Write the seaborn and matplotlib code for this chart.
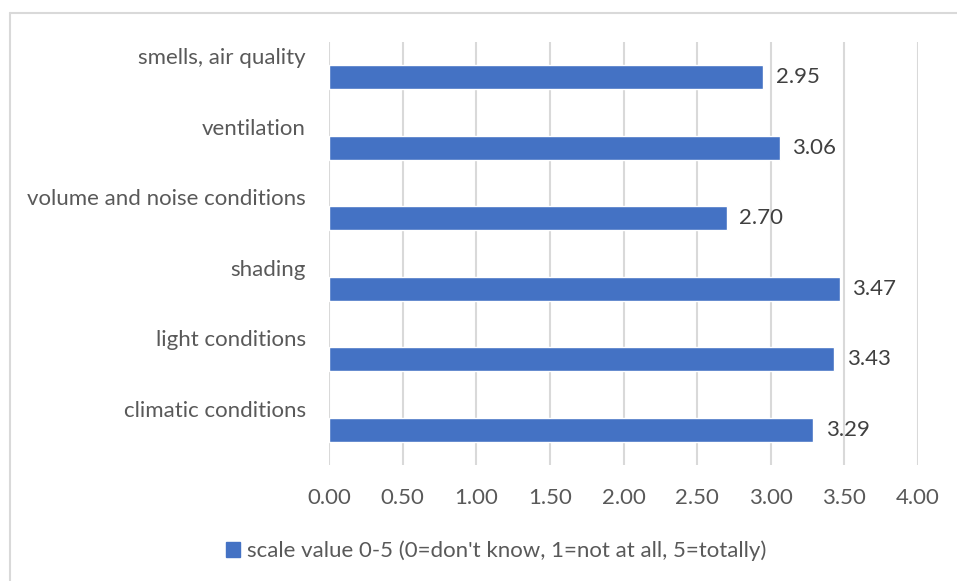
import matplotlib
matplotlib.use("Agg")
import matplotlib.pyplot as plt
import matplotlib.transforms as mtransforms
from matplotlib.lines import Line2D
import seaborn as sns
import pandas as pd

# Survey aspects, listed top to bottom
aspects = [
    "smells, air quality",
    "ventilation",
    "volume and noise conditions",
    "shading",
    "light conditions",
    "climatic conditions",
]
scores = [2.95, 3.06, 2.70, 3.47, 3.43, 3.29]
series_name = "scale value 0-5 (0=don't know, 1=not at all, 5=totally)"
x_ticks = [0.0, 0.5, 1.0, 1.5, 2.0, 2.5, 3.0, 3.5, 4.0]

bar_color = "#4472C4"
text_gray = "#595959"
grid_gray = "#D9D9D9"
fs = 16

sns.set_theme(style="white")
plt.rcParams["font.family"] = ["Lato", "DejaVu Sans"]

df = pd.DataFrame({"aspect": aspects, "score": scores, "series": series_name})

fig = plt.figure(figsize=(9.57, 5.81), dpi=100)
W, H = 957, 581
ax = fig.add_axes([329 / W, 1 - 465 / H, (918 - 329) / W, (465 - 42) / H])

sns.barplot(data=df, x="score", y="aspect", hue="series", palette=[bar_color],
            orient="h", width=0.345, ax=ax, legend=True, saturation=1)

ax.set_xlim(0, 4.0)
ax.set_ylim(5.5, -0.5)
ax.set_xticks(x_ticks)
ax.set_xticklabels([f"{t:.2f}" for t in x_ticks])
ax.xaxis.grid(True, color=grid_gray, linewidth=1.5)
ax.set_axisbelow(True)
for s in ax.spines.values():
    s.set_visible(False)
ax.set_xlabel("")
ax.set_ylabel("")
ax.tick_params(axis="x", length=0, pad=16.5, labelsize=fs, labelcolor=text_gray)
ax.tick_params(axis="y", length=0)
ax.set_yticklabels([])

# category names sit above their bars, right-aligned against the plot edge
lab_tr = mtransforms.offset_copy(ax.get_yaxis_transform(), fig=fig, x=-23, y=19, units="dots")
for i, name in enumerate(aspects):
    ax.text(0, i, name, transform=lab_tr, ha="right", va="center",
            fontsize=fs, color=text_gray)

for cont in ax.containers:
    ax.bar_label(cont, fmt="%.2f", padding=9, fontsize=fs, color="#404040")

ax.legend_.remove()
handles = [plt.Rectangle((0, 0), 1, 1, color=bar_color)]
fig.legend(handles, [series_name], loc="center", bbox_to_anchor=(496.5 / W, 1 - 551 / H),
           frameon=False, fontsize=fs, labelcolor=text_gray,
           handlelength=0.63, handleheight=0.63, handletextpad=0.3)

# chart area outline
fig.add_artist(Line2D([9.5 / W, 1.0], [1 - 12.5 / H, 1 - 12.5 / H], transform=fig.transFigure,
                      color=grid_gray, linewidth=1.5))
fig.add_artist(Line2D([9.5 / W, 9.5 / W], [0, 1 - 12.5 / H], transform=fig.transFigure,
                      color=grid_gray, linewidth=1.5))

fig.savefig("out.png", dpi=100, facecolor="white")
